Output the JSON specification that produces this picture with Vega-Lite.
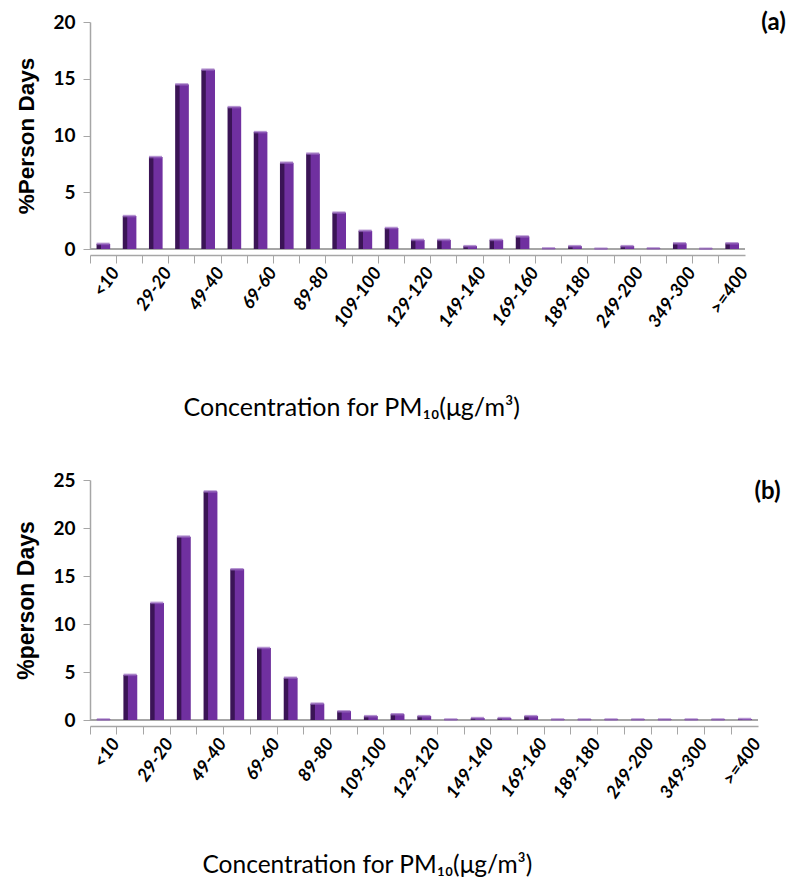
{
  "$schema": "https://vega.github.io/schema/vega-lite/v6.json",
  "background": "white",
  "padding": {"left": 15, "top": 11, "right": 5, "bottom": 5},
  "config": {"view": {"stroke": null}, "font": "Lato", "concat": {"spacing": 50}},
  "datasets": {
    "a": [
      {"cat": "<10", "v": 0.45}, {"cat": "19-10", "v": 2.9}, {"cat": "29-20", "v": 8.1}, {"cat": "39-30", "v": 14.5},
      {"cat": "49-40", "v": 15.8}, {"cat": "59-50", "v": 12.5}, {"cat": "69-60", "v": 10.3}, {"cat": "79-70", "v": 7.6},
      {"cat": "89-80", "v": 8.4}, {"cat": "99-90", "v": 3.2}, {"cat": "109-100", "v": 1.6}, {"cat": "119-110", "v": 1.85},
      {"cat": "129-120", "v": 0.8}, {"cat": "139-130", "v": 0.8}, {"cat": "149-140", "v": 0.25}, {"cat": "159-150", "v": 0.8},
      {"cat": "169-160", "v": 1.1}, {"cat": "179-170", "v": 0.05}, {"cat": "189-180", "v": 0.25}, {"cat": "199-190", "v": 0.02},
      {"cat": "249-200", "v": 0.25}, {"cat": "299-250", "v": 0.05}, {"cat": "349-300", "v": 0.5}, {"cat": "399-350", "v": 0.02},
      {"cat": ">=400", "v": 0.5}
    ],
    "b": [
      {"cat": "<10", "v": 0.05}, {"cat": "19-10", "v": 4.7}, {"cat": "29-20", "v": 12.2}, {"cat": "39-30", "v": 19.1},
      {"cat": "49-40", "v": 23.8}, {"cat": "59-50", "v": 15.7}, {"cat": "69-60", "v": 7.5}, {"cat": "79-70", "v": 4.4},
      {"cat": "89-80", "v": 1.7}, {"cat": "99-90", "v": 0.9}, {"cat": "109-100", "v": 0.4}, {"cat": "119-110", "v": 0.6},
      {"cat": "129-120", "v": 0.4}, {"cat": "139-130", "v": 0.05}, {"cat": "149-140", "v": 0.2}, {"cat": "159-150", "v": 0.2},
      {"cat": "169-160", "v": 0.4}, {"cat": "179-170", "v": 0.05}, {"cat": "189-180", "v": 0.05}, {"cat": "199-190", "v": 0.05},
      {"cat": "249-200", "v": 0.05}, {"cat": "299-250", "v": 0.05}, {"cat": "349-300", "v": 0.05}, {"cat": "399-350", "v": 0.05},
      {"cat": ">=400", "v": 0.1}
    ]
  },
  "vconcat": [
    {
      "width": 655,
      "height": 227,
      "title": {"text": "(a)", "anchor": "end", "fontSize": 24, "fontWeight": "bold", "font": "Lato", "color": "black", "offset": -22, "dx": 34},
      "data": {"name": "a"},
      "layer": [
        {
          "mark": {"type": "rule", "color": "#a6a6a6", "strokeWidth": 1.5},
          "encoding": {"y": {"datum": 0, "type": "quantitative", "scale": {"domain": [0, 20], "nice": false}}}
        },
        {
          "mark": {"type": "bar", "color": "#3b1456", "width": {"band": 0.5}},
          "encoding": {
            "x": {
              "field": "cat", "type": "nominal", "sort": null,
              "scale": {"paddingInner": 0, "paddingOuter": 0},
              "axis": {
                "title": "Concentration for PM₁₀(μg/m³)", "titleFont": "Lato", "titleFontSize": 25, "titleFontWeight": "normal", "titleColor": "black",
                "titleAlign": "left", "titleAnchor": "start", "titleX": 93, "titlePadding": 65,
                "labelAngle": -55, "labelAlign": "right", "labelBaseline": "middle", "labelFont": "Lato", "labelFontSize": 18, "labelFontWeight": "bold", "labelFontStyle": "italic", "labelColor": "black", "labelPadding": 6,
                "labelExpr": "indexof(['<10','29-20','49-40','69-60','89-80','109-100','129-120','149-140','169-160','189-180','249-200','349-300','>=400'], datum.value) >= 0 ? datum.value : ''",
                "bandPosition": 0, "labelOffset": 13,
                "tickColor": "#a6a6a6", "tickSize": 8, "domainColor": "#a6a6a6", "domainWidth": 1.5, "offset": 6
              }
            },
            "y": {
              "field": "v", "type": "quantitative",
              "scale": {"domain": [0, 20], "nice": false},
              "axis": {
                "title": "%Person Days", "titleFont": "Liberation Sans", "titleFontSize": 22.5, "titleFontWeight": "bold", "titleColor": "black", "titlePadding": 14,
                "values": [0, 5, 10, 15, 20], "labelFont": "Lato", "labelFontSize": 19, "labelFontWeight": "bold", "labelColor": "black", "labelPadding": 8,
                "tickColor": "#a6a6a6", "tickSize": 7, "domainColor": "#a6a6a6", "domainWidth": 1.5, "grid": false
              }
            }
          }
        },
        {
          "mark": {"type": "bar", "color": "#7030a0", "width": {"band": 0.35}, "xOffset": 2.5},
          "encoding": {
            "x": {"field": "cat", "type": "nominal", "sort": null},
            "y": {"field": "v", "type": "quantitative"}
          }
        },
        {
          "mark": {"type": "tick", "color": "#9565bd", "thickness": 2.5, "size": 13, "orient": "horizontal"},
          "encoding": {
            "x": {"field": "cat", "type": "nominal", "sort": null},
            "y": {"field": "v", "type": "quantitative"}
          }
        }
      ]
    },
    {
      "width": 668,
      "height": 240,
      "title": {"text": "(b)", "anchor": "end", "fontSize": 24, "fontWeight": "bold", "font": "Lato", "color": "black", "offset": -33, "dx": 16},
      "data": {"name": "b"},
      "layer": [
        {
          "mark": {"type": "rule", "color": "#a6a6a6", "strokeWidth": 1.5},
          "encoding": {"y": {"datum": 0, "type": "quantitative", "scale": {"domain": [0, 25], "nice": false}}}
        },
        {
          "mark": {"type": "bar", "color": "#3b1456", "width": {"band": 0.5}},
          "encoding": {
            "x": {
              "field": "cat", "type": "nominal", "sort": null,
              "scale": {"paddingInner": 0, "paddingOuter": 0},
              "axis": {
                "title": "Concentration for PM₁₀(μg/m³)", "titleFont": "Lato", "titleFontSize": 24.5, "titleFontWeight": "normal", "titleColor": "black",
                "titleAlign": "left", "titleAnchor": "start", "titleX": 112, "titlePadding": 52,
                "labelAngle": -55, "labelAlign": "right", "labelBaseline": "middle", "labelFont": "Lato", "labelFontSize": 18, "labelFontWeight": "bold", "labelFontStyle": "italic", "labelColor": "black", "labelPadding": 6,
                "labelExpr": "indexof(['<10','29-20','49-40','69-60','89-80','109-100','129-120','149-140','169-160','189-180','249-200','349-300','>=400'], datum.value) >= 0 ? datum.value : ''",
                "bandPosition": 0, "labelOffset": 13,
                "tickColor": "#a6a6a6", "tickSize": 8, "domainColor": "#a6a6a6", "domainWidth": 1.5, "offset": 6
              }
            },
            "y": {
              "field": "v", "type": "quantitative",
              "scale": {"domain": [0, 25], "nice": false},
              "axis": {
                "title": "%person Days", "titleFont": "Liberation Sans", "titleFontSize": 23, "titleFontWeight": "bold", "titleColor": "black", "titlePadding": 14,
                "values": [0, 5, 10, 15, 20, 25], "labelFont": "Lato", "labelFontSize": 19, "labelFontWeight": "bold", "labelColor": "black", "labelPadding": 8,
                "tickColor": "#a6a6a6", "tickSize": 7, "domainColor": "#a6a6a6", "domainWidth": 1.5, "grid": false
              }
            }
          }
        },
        {
          "mark": {"type": "bar", "color": "#7030a0", "width": {"band": 0.35}, "xOffset": 2.5},
          "encoding": {
            "x": {"field": "cat", "type": "nominal", "sort": null},
            "y": {"field": "v", "type": "quantitative"}
          }
        },
        {
          "mark": {"type": "tick", "color": "#9565bd", "thickness": 2.5, "size": 13, "orient": "horizontal"},
          "encoding": {
            "x": {"field": "cat", "type": "nominal", "sort": null},
            "y": {"field": "v", "type": "quantitative"}
          }
        }
      ]
    }
  ]
}
